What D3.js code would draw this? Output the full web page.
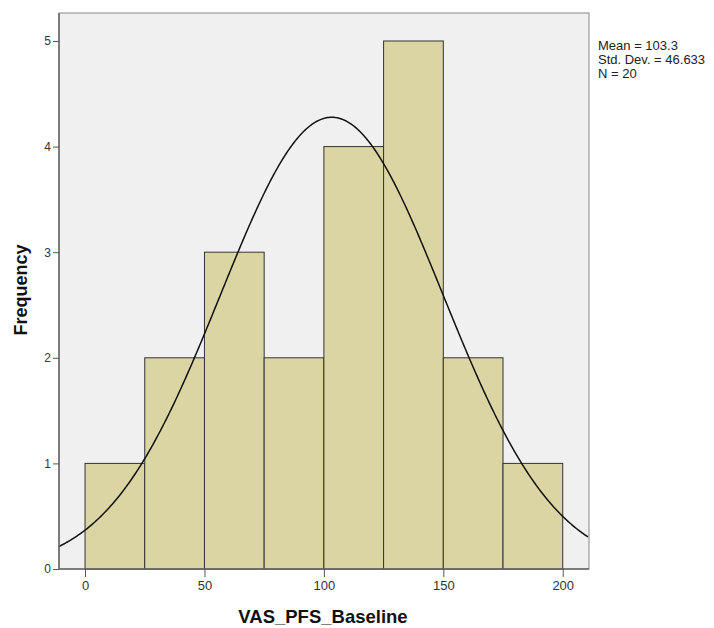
<!DOCTYPE html>
<html><head><meta charset="utf-8">
<script src="https://cdn.jsdelivr.net/npm/d3@7"></script>
<style>body{margin:0;background:#fff;font-family:Arial,"Liberation Sans",sans-serif;}</style>
</head><body>
<svg id="c" width="714" height="628"></svg>
<script>
const binStarts = [0, 25, 50, 75, 100, 125, 150, 175];
const binWidth = 25;
const frequencies = [1, 2, 3, 2, 4, 5, 2, 1];
const xTicks = [0, 50, 100, 150, 200];
const yTicks = [0, 1, 2, 3, 4, 5];
const stats = ["Mean = 103.3", "Std. Dev. = 46.633", "N = 20"];
const mean = 103.3, sd = 46.633, n = 20;

const svg = d3.select("#c");
const L = 59, R = 589, T = 13, B = 569;
const x = d3.scaleLinear().domain([-10.9, 211]).range([L, R]);
const y = d3.scaleLinear().domain([0, 5.265]).range([B, T]);

svg.append("rect").attr("x", L).attr("y", T).attr("width", R - L).attr("height", B - T)
  .attr("fill", "#f0f0f0").attr("stroke", "#888").attr("stroke-width", 1);

svg.append("g").selectAll("rect").data(binStarts).join("rect")
  .attr("x", (d) => x(d)).attr("width", (d) => x(d + binWidth) - x(d))
  .attr("y", (d, i) => y(frequencies[i])).attr("height", (d, i) => B - y(frequencies[i]))
  .attr("fill", "#dbd5a4").attr("stroke", "#333").attr("stroke-width", 1);

// normal curve
const pts = d3.range(-10.9, 211.01, 0.5).map(v => [v, n * binWidth * Math.exp(-0.5 * ((v - mean) / sd) ** 2) / (sd * Math.sqrt(2 * Math.PI))]);
svg.append("clipPath").attr("id", "cp").append("rect").attr("x", L).attr("y", T).attr("width", R - L).attr("height", B - T);
svg.append("path").datum(pts).attr("clip-path", "url(#cp)")
  .attr("d", d3.line().x(d => x(d[0])).y(d => y(d[1])))
  .attr("fill", "none").attr("stroke", "#111").attr("stroke-width", 1.5);

// axes lines
svg.append("line").attr("x1", L).attr("x2", L).attr("y1", T).attr("y2", B).attr("stroke", "#666").attr("stroke-width", 1.5);
svg.append("line").attr("x1", L).attr("x2", R).attr("y1", B).attr("y2", B).attr("stroke", "#666").attr("stroke-width", 1.5);

const ya = svg.append("g").attr("transform", `translate(${L},0)`)
  .call(d3.axisLeft(y).tickValues(yTicks).tickSize(6).tickPadding(2).tickFormat(d3.format("d")));
ya.select(".domain").remove();
ya.selectAll("line").attr("stroke", "#555");
ya.selectAll("text").attr("font-size", 12).attr("fill", "#333").attr("font-family", "Arial, Liberation Sans, sans-serif");

const xa = svg.append("g").attr("transform", `translate(0,${B})`)
  .call(d3.axisBottom(x).tickValues(xTicks).tickSize(8).tickPadding(4).tickFormat(d3.format("d")));
xa.select(".domain").remove();
xa.selectAll("line").attr("stroke", "#555");
xa.selectAll("text").attr("font-size", 13).attr("fill", "#333").attr("font-family", "Arial, Liberation Sans, sans-serif");

svg.append("text").attr("x", 323).attr("y", 623).attr("text-anchor", "middle")
  .attr("font-size", 18.5).attr("font-weight", "bold").attr("fill", "#111").text("VAS_PFS_Baseline");
svg.append("text").attr("transform", "translate(27,290) rotate(-90)").attr("text-anchor", "middle")
  .attr("font-size", 18).attr("font-weight", "bold").attr("fill", "#111").text("Frequency");

svg.append("g").selectAll("text").data(stats).join("text")
  .attr("x", 598).attr("y", (d, i) => 50 + i * 14)
  .attr("font-size", 13).attr("fill", "#222").text(d => d);
</script>
</body></html>
